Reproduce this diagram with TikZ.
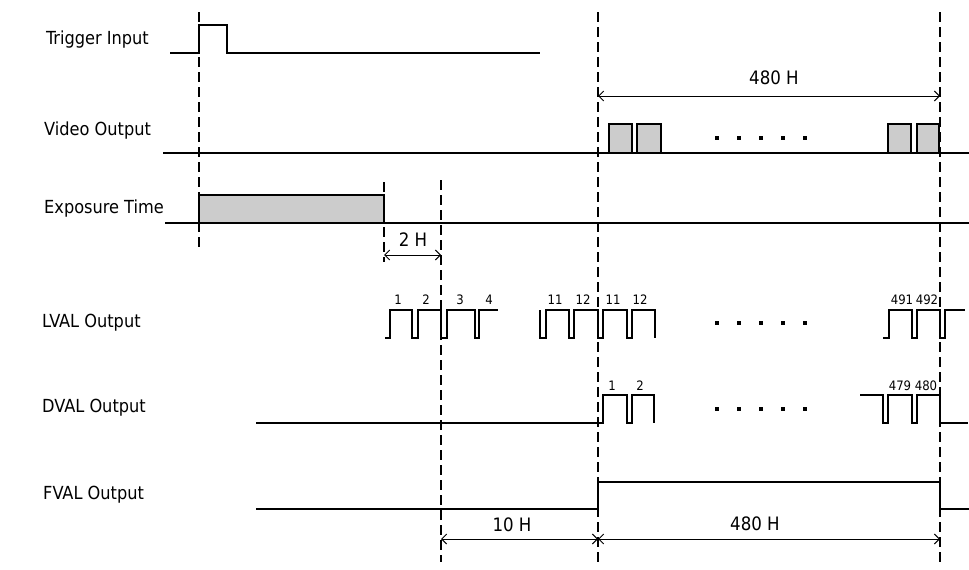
\documentclass[tikz,border=0pt]{standalone}
\usepackage{fontspec}
\setmainfont{DejaVu Sans Condensed}
\usetikzlibrary{arrows.meta}
\begin{document}
\begin{tikzpicture}[x=1pt,y=-1pt,
  sig/.style={line width=1.3pt,line join=miter},
  guide/.style={line width=2.2pt,dash pattern=on 10pt off 5pt},
  dimline/.style={line width=1pt,{Straight Barb[length=5pt,width=10pt]}-{Straight Barb[length=5pt,width=10pt]}},
  lbl/.style={anchor=west,font=\fontsize{18}{20}\selectfont,inner sep=0pt},
  num/.style={font=\fontsize{13}{14}\selectfont,inner sep=0pt},
  dimlbl/.style={font=\fontsize{18.5}{20}\selectfont,inner sep=0pt},
  pix/.style={fill=black!20,draw=black,line width=1.3pt},
  dotm/.style={fill=black,draw=none,minimum size=4pt,inner sep=0pt}
]
\useasboundingbox (0,0) rectangle (969,570);
\fill[white] (0,0) rectangle (969,570);

% ---- row labels
\node[lbl] (ltrig) at (46,40) {Trigger Input};
\node[lbl] (lvid)  at (44,131) {Video Output};
\node[lbl] (lexp)  at (44,209) {Exposure Time};
\node[lbl] (llval) at (42,323) {LVAL Output};
\node[lbl] (ldval) at (42,408) {DVAL Output};
\node[lbl] (lfval) at (43,495) {FVAL Output};

% ---- guide coordinates
\coordinate (g1t) at (199,12);  \coordinate (g1b) at (199,250);
\coordinate (g2t) at (384,182); \coordinate (g2b) at (384,262);
\coordinate (g3t) at (441,180); \coordinate (g3b) at (441,562);
\coordinate (g4t) at (598,12);  \coordinate (g4b) at (598,562);
\coordinate (g5t) at (940,12);  \coordinate (g5b) at (940,562);

% ---- Trigger
\draw[sig] (170,53) -- (199,53) -- (199,25) -- (227,25) -- (227,53) -- (540,53);

% ---- Video output
\draw[sig] (163,153) -- (969,153);
\draw[pix] (609,124) rectangle (632,153);
\draw[pix] (637,124) rectangle (661,153);
\draw[pix] (888,124) rectangle (911,153);
\draw[pix] (917,124) rectangle (939,153);
\foreach \i/\x in {1/717,2/739,3/761,4/783,5/805}
  \node[dotm] (vd\i) at (\x,138) {};

% ---- Exposure
\draw[sig] (165,223) -- (969,223);
\draw[pix] (199,195) rectangle (384,223);

% ---- LVAL
\draw[sig] (385,338) -- (390,338) -- (390,310) -- (412,310) -- (412,338) -- (418,338) -- (418,310)
  -- (441,310) -- (441,338) -- (447,338) -- (447,310) -- (475,310) -- (475,338) -- (479,338)
  -- (479,310) -- (498,310);
\draw[sig] (540,310) -- (540,338) -- (546,338) -- (546,310) -- (569,310) -- (569,338) -- (574,338)
  -- (574,310) -- (598,310) -- (598,338) -- (603,338) -- (603,310) -- (627,310) -- (627,338)
  -- (632,338) -- (632,310) -- (655,310) -- (655,338);
\draw[sig] (883,338) -- (889,338) -- (889,310) -- (912,310) -- (912,338) -- (917,338) -- (917,310)
  -- (940,310) -- (940,338) -- (945,338) -- (945,310) -- (965,310);
\node[num] (n1) at (398,300) {1};
\node[num] (n2) at (426,300) {2};
\node[num] (n3) at (460,300) {3};
\node[num] (n4) at (489,300) {4};
\node[num] (n11a) at (555,300) {11};
\node[num] (n12a) at (583,300) {12};
\node[num] (n11b) at (613,300) {11};
\node[num] (n12b) at (640,300) {12};
\node[num] (n491) at (902,300) {491};
\node[num] (n492) at (927,300) {492};
\foreach \i/\x in {1/717,2/739,3/761,4/783,5/805}
  \node[dotm] (ld\i) at (\x,323) {};

% ---- DVAL
\draw[sig] (256,423) -- (603,423) -- (603,395) -- (627,395) -- (627,423) -- (632,423) -- (632,395)
  -- (654,395) -- (654,423);
\draw[sig] (860,395) -- (883,395) -- (883,423) -- (888,423) -- (888,395) -- (912,395) -- (912,423)
  -- (917,423) -- (917,395) -- (940,395) -- (940,423) -- (968,423);
\node[num] (d1) at (612,386) {1};
\node[num] (d2) at (640,386) {2};
\node[num] (d479) at (900,386) {479};
\node[num] (d480) at (926,386) {480};
\foreach \i/\x in {1/717,2/739,3/761,4/783,5/805}
  \node[dotm] (dd\i) at (\x,409) {};

% ---- FVAL
\draw[sig] (256,509) -- (598,509) -- (598,482) -- (940,482) -- (940,509) -- (969,509);

% ---- guides
\draw[guide] (g1t) -- (g1b);
\draw[guide] (g2t) -- (g2b);
\draw[guide] (g3t) -- (g3b);
\draw[guide] (g4t) -- (g4b);
\draw[guide] (g5t) -- (g5b);

% ---- dimensions
\coordinate (a1l) at (598,96);  \coordinate (a1r) at (940,96);
\coordinate (a2l) at (384,255); \coordinate (a2r) at (441,255);
\coordinate (a3l) at (441,539); \coordinate (a3r) at (598,539);
\coordinate (a4l) at (598,539); \coordinate (a4r) at (940,539);
\draw[dimline] (a1l) -- (a1r);
\draw[dimline] (a2l) -- (a2r);
\draw[dimline] (a3l) -- (a3r);
\draw[dimline] (a4l) -- (a4r);
\node[dimlbl] (t480a) at (774,78) {480 H};
\node[dimlbl] (t2h) at (413,240) {2 H};
\node[dimlbl] (t10h) at (512,525) {10 H};
\node[dimlbl] (t480b) at (755,524) {480 H};
\end{tikzpicture}
\end{document}
